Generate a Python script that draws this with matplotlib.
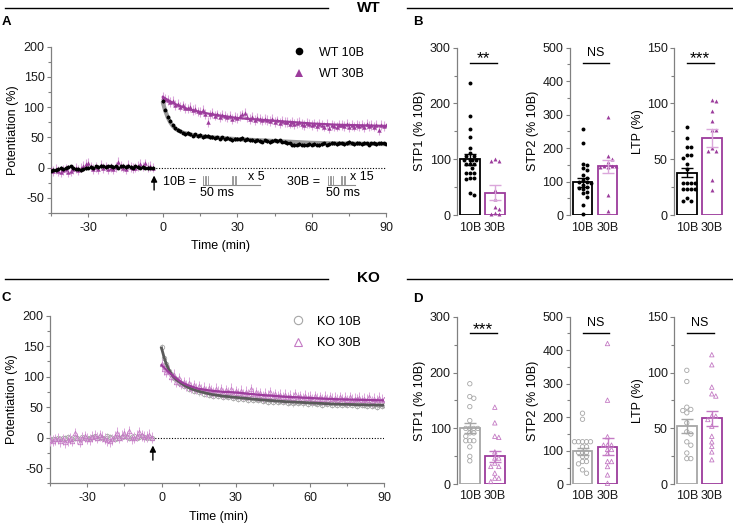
import matplotlib
matplotlib.use('Agg')
import matplotlib.pyplot as plt
import numpy as np
from matplotlib.lines import Line2D

plt.rcParams['font.family'] = ['Liberation Sans', 'DejaVu Sans']

# ---------------- data ----------------
BASE_START = -45
POST_START = 0

wt10_base = [-5, -4, -4, -2, -1, -3, 0, 1, 2, -1,
             -3, -2, -4, -3, -1, 0, 1, 0, 2, 1,
             3, 2, 1, 2, 3, 1, 2, 0, 2, 3,
             1, 2, 1, 0, 2, 1, 0, 1, 0, -1,
             0, 0]
wt30_base = [-3, -6, -2, -5, -8, -4, -2, -7, -5, -3,
             -1, -4, 0, 3, 6, 8, 2, -2, 1, -3,
             4, -1, 2, -2, 0, -3, 1, 10, 3, 0,
             -2, 4, 1, -1, 0, 3, 6, 2, 7, 1,
             3, 0]
wt10_post = [110, 96, 84, 77, 70, 65, 62, 60, 58, 56,
             57, 55, 53, 55, 52, 54, 51, 52, 53, 50,
             51, 49, 50, 48, 50, 47, 49, 48, 46, 47,
             48, 47, 49, 46, 47, 45, 46, 44, 45, 44,
             43, 45, 44, 42, 44, 45, 44, 45, 43, 42,
             41, 40, 38, 37, 38, 39, 38, 37, 38, 39,
             38, 39, 38, 37, 39, 40, 38, 39, 41, 40,
             39, 41, 40, 39, 41, 42, 40, 39, 41, 40,
             39, 41, 40, 38, 40, 41, 39, 40, 41, 40,
             39]
wt30_post = [117, 113, 112, 108, 110, 104, 106, 101, 103, 99,
             98, 100, 95, 97, 93, 92, 95, 89, 76, 88,
             90, 86, 88, 84, 87, 85, 83, 86, 80, 84,
             82, 85, 88, 90, 83, 81, 84, 79, 82, 80,
             78, 81, 79, 77, 80, 76, 78, 74, 77, 75,
             76, 73, 75, 72, 74, 76, 72, 70, 74, 73,
             71, 73, 69, 72, 70, 68, 72, 66, 71, 69,
             68, 71, 70, 69, 72, 67, 70, 68, 71, 69,
             70, 67, 72, 69, 71, 68, 70, 62, 70, 69,
             70]
wt10_sem = 3
wt30_sem = 8
wt10_fit_t = [0, 1, 2, 3, 4, 5, 6, 8, 10, 12, 15, 20, 25, 30, 40, 50, 60, 70, 80, 90]
wt10_fit_y = [108, 94, 83, 75, 69, 65, 62, 58, 56, 54, 52, 50, 48.5, 47, 45, 43, 41, 40, 39.5, 39]
wt30_fit_t = [0, 2, 5, 10, 15, 20, 25, 30, 40, 50, 60, 70, 80, 90]
wt30_fit_y = [117, 112, 105, 97, 92, 88, 85, 82, 79, 76, 73, 71, 70, 69]

ko10_base = [-3, -2, -3, -1, -2, -1, 0, 1, -1, -2,
             0, -1, -2, 1, 0, -1, 0, 1, 2, 0,
             1, -1, 0, 2, 1, 0, -2, -1, 0, 1,
             2, 1, 0, 1, 2, 0, 1, 2, 1, 0,
             1, 0]
ko30_base = [-4, -5, -3, -2, -6, -3, -8, -4, -2, -5,
             7, -1, -7, 0, 2, -2, -3, 1, 3, 0,
             4, 1, -2, -4, -6, -3, 2, 8, 0, 3,
             7, 2, 10, -1, 0, 3, 9, 4, 1, 2,
             5, 0]
ko10_post = [149, 130, 121, 109, 105, 97, 96, 90, 90, 85,
             85, 80, 81, 77, 78, 74, 76, 72, 74, 70,
             72, 69, 71, 68, 70, 66, 69, 66, 68, 65,
             67, 64, 66, 63, 65, 62, 65, 62, 64, 61,
             63, 60, 62, 59, 61, 59, 61, 58, 60, 58,
             60, 57, 59, 56, 59, 57, 58, 56, 58, 55,
             58, 56, 57, 55, 57, 54, 57, 55, 56, 54,
             56, 54, 56, 53, 55, 53, 56, 53, 55, 52,
             55, 53, 54, 52, 55, 52, 54, 51, 54, 52,
             53]
ko30_post = [120, 112, 108, 110, 100, 103, 92, 97, 88, 91,
             86, 90, 82, 86, 80, 84, 79, 82, 76, 81,
             78, 74, 80, 75, 79, 73, 78, 74, 80, 72,
             76, 73, 77, 71, 75, 70, 79, 72, 74, 69,
             73, 68, 72, 69, 74, 67, 71, 68, 70, 66,
             70, 66, 69, 65, 71, 66, 68, 64, 69, 65,
             67, 63, 68, 64, 66, 63, 67, 62, 66, 64,
             65, 62, 66, 63, 65, 61, 66, 62, 64, 63,
             65, 61, 64, 62, 66, 60, 64, 61, 65, 62,
             63]
ko10_sem = 5
ko30_sem = 9
ko10_fit_t = [0, 1, 2, 3, 4, 5, 6, 7, 8, 10, 12, 15, 20, 25, 30, 40, 50, 60, 70, 80, 90]
ko10_fit_y = [147, 132, 120, 111, 104, 99, 95, 92, 89, 84, 80, 76, 71, 68, 66, 62, 59, 57, 55, 54, 53]
ko30_fit_t = [0, 1, 2, 3, 4, 5, 6, 7, 8, 10, 12, 15, 20, 25, 30, 40, 50, 60, 70, 80, 90]
ko30_fit_y = [119, 115, 111, 107, 104, 100, 97, 94, 91, 87, 84, 80, 77, 75, 74, 70, 67, 65, 63, 62, 61]

groups = ['10B', '30B']

wt_stp1_10 = [236, 177, 154, 139, 121, 112, 106, 106, 99, 99, 99, 99, 91, 91, 91, 84, 76, 76, 76, 67, 67, 64, 40, 36]
wt_stp1_30 = [101, 97, 97, 44, 28, 15, 10, 3, 2, 1]
wt_stp1_mean = [100, 40]
wt_stp1_sem = [10, 13]
wt_stp2_10 = [256, 216, 152, 148, 140, 135, 120, 112, 105, 100, 98, 95, 90, 85, 80, 78, 70, 65, 55, 30, 2]
wt_stp2_30 = [294, 177, 167, 157, 147, 147, 147, 142, 142, 60, 12]
wt_stp2_mean = [98, 145]
wt_stp2_sem = [13, 20]
wt_ltp_10 = [79, 69, 61, 61, 54, 54, 51, 46, 41, 29, 29, 29, 29, 23, 23, 23, 23, 15, 13, 13]
wt_ltp_30 = [103, 102, 93, 84, 76, 76, 60, 57, 57, 31, 22]
wt_ltp_mean = [38, 69]
wt_ltp_sem = [4, 8]

ko_stp1_10 = [180, 157, 154, 139, 114, 100, 100, 100, 100, 92, 92, 86, 78, 78, 78, 67, 50, 42]
ko_stp1_30 = [138, 110, 86, 84, 58, 47, 47, 38, 32, 32, 20, 11, 11, 5]
ko_stp1_mean = [100, 50]
ko_stp1_sem = [9, 10]
ko_stp2_10 = [212, 194, 127, 127, 127, 127, 127, 112, 112, 95, 95, 95, 83, 83, 68, 68, 61, 43, 33]
ko_stp2_30 = [420, 251, 142, 117, 117, 117, 104, 104, 92, 68, 68, 53, 28, 3]
ko_stp2_mean = [98, 112]
ko_stp2_sem = [10, 25]
ko_ltp_10 = [102, 92, 69, 67, 66, 64, 55, 47, 45, 38, 35, 28, 23, 23]
ko_ltp_30 = [116, 107, 87, 81, 79, 61, 61, 58, 52, 43, 38, 34, 29, 22]
ko_ltp_mean = [52, 59]
ko_ltp_sem = [6, 7]

# ---------------- style ----------------
PURPLE = '#9c3c9c'
LPURPLE = '#dba6db'
KOPURPLE = '#c47ac4'
GRAY = '#a6a6a6'
AXC = '#808080'
FS = 9

W, H = 733, 525
fig = plt.figure(figsize=(W / 100, H / 100), dpi=100)


def add_ax(l, t, r, b):
    return fig.add_axes([l / W, 1 - b / H, (r - l) / W, (b - t) / H])


def fx(x):
    return x / W


def fy(y):
    return 1 - y / H


def fig_line(x0, y0, x1, y1, **kw):
    fig.add_artist(Line2D([fx(x0), fx(x1)], [fy(y0), fy(y1)], transform=fig.transFigure, **kw))


def fig_text(x, y, s, **kw):
    fig.text(fx(x), fy(y), s, **kw)


def style(ax):
    for s in ['top', 'right']:
        ax.spines[s].set_visible(False)
    for s in ['left', 'bottom']:
        ax.spines[s].set_color(AXC)
        ax.spines[s].set_linewidth(0.9)
    ax.tick_params(which='both', color=AXC, width=0.8, labelsize=FS, labelcolor='#1a1a1a')
    ax.tick_params(which='major', length=3.2)
    ax.tick_params(which='minor', length=2.0)
    ax.tick_params(axis='y', pad=1.5)
    ax.tick_params(axis='x', pad=3)


# ---------------- header lines ----------------
for yline, lab in [(7.5, 'WT'), (278.5, 'KO')]:
    fig_line(5, yline, 328, yline, color='k', lw=1)
    fig_line(407, yline, 733, yline, color='k', lw=1)
    fig_text(357, yline, lab, fontsize=11, fontweight='bold', ha='left', va='center')

for x, y, lab in [(2, 22, 'A'), (413, 22, 'B'), (2, 298, 'C'), (413, 299, 'D')]:
    fig_text(x, y, lab, fontsize=9.5, fontweight='bold', ha='left', va='center')


# ---------------- time course panels ----------------
def time_panel(ax, b10, b30, p10, p30, s10, s30, f10t, f10y, f30t, f30y, ko):
    style(ax)
    ax.set_xlim(-45, 90)
    ax.set_ylim(-75, 200)
    ax.set_xticks([-30, 0, 30, 60, 90])
    ax.set_xticks([-45, -15, 15, 45, 75], minor=True)
    ax.set_yticks([-50, 0, 50, 100, 150, 200])
    ax.set_yticks([-75, -25, 25, 75, 125, 175], minor=True)
    ax.set_xticklabels(['-30', '0', '30', '60', '90'])
    ax.set_yticklabels(['-50', '0', '50', '100', '150', '200'])
    ax.plot([-4, 90], [0, 0], ls=(0, (1, 1.5)), color='k', lw=0.8, zorder=1)

    tb10 = np.arange(len(b10)) + BASE_START
    tb30 = np.arange(len(b30)) + BASE_START
    tp10 = np.arange(len(p10)) + POST_START
    tp30 = np.arange(len(p30)) + POST_START
    t10 = np.concatenate([tb10, tp10])
    y10 = np.concatenate([b10, p10])
    t30 = np.concatenate([tb30, tp30])
    y30 = np.concatenate([b30, p30])

    if not ko:
        ax.errorbar(t30, y30, yerr=s30, fmt='none', ecolor=LPURPLE, elinewidth=0.8, zorder=2)
        ax.plot(f30t, f30y, color=PURPLE, lw=1.6, zorder=3)
        ax.plot(t30, y30, ls='', marker='^', ms=3.2, color=PURPLE, mew=0, zorder=4)
        ax.plot(f10t, f10y, color='#9a9a9a', lw=3.0, zorder=5, solid_capstyle='round')
        ax.errorbar(t10, y10, yerr=s10, fmt='none', ecolor='#333333', elinewidth=0.6, zorder=6)
        ax.plot(t10, y10, ls='', marker='o', ms=2.8, color='k', mew=0, zorder=7)
        h1 = Line2D([], [], ls='', marker='o', ms=5.5, color='k', mew=0)
        h2 = Line2D([], [], ls='', marker='^', ms=5.5, color=PURPLE, mew=0)
        labels = ['WT 10B', 'WT 30B']
    else:
        ax.errorbar(t10, y10, yerr=s10, fmt='none', ecolor='#cfcfcf', elinewidth=0.7, zorder=2)
        ax.plot(t10, y10, ls='', marker='o', ms=3.2, mfc='none', mec=GRAY, mew=0.6, zorder=3)
        ax.errorbar(t30, y30, yerr=s30, fmt='none', ecolor=LPURPLE, elinewidth=0.7, zorder=4)
        ax.plot(t30, y30, ls='', marker='^', ms=3.2, mfc='none', mec=KOPURPLE, mew=0.6, zorder=5)
        ax.plot(f10t, f10y, color='#5a5a5a', lw=2.0, zorder=6)
        ax.plot(f30t, f30y, color=PURPLE, lw=1.6, zorder=7)
        h1 = Line2D([], [], ls='', marker='o', ms=6, mfc='none', mec=GRAY, mew=0.8)
        h2 = Line2D([], [], ls='', marker='^', ms=6, mfc='none', mec=KOPURPLE, mew=0.8)
        labels = ['KO 10B', 'KO 30B']

    ax.annotate('', xy=(-3.5, -13), xytext=(-3.5, -37),
                arrowprops=dict(arrowstyle='-|>', color='k', lw=1.0, mutation_scale=9,
                                shrinkA=0, shrinkB=0))
    ax.legend([h1, h2], labels, loc='upper left', bbox_to_anchor=(0.722, 1.0),
              frameon=False, fontsize=FS, handlelength=1.0, handletextpad=1.05,
              labelspacing=0.75, borderpad=0, borderaxespad=0)
    ax.set_ylabel('Potentiation (%)', fontsize=FS)
    ax.yaxis.set_label_coords(-0.095, 0.5)
    ax.set_xlabel('Time (min)', fontsize=FS)
    ax.xaxis.set_label_coords(0.504, -0.165)


axA = add_ax(51, 46.7, 386.4, 213)
time_panel(axA, wt10_base, wt30_base, wt10_post, wt30_post, wt10_sem, wt30_sem,
           wt10_fit_t, wt10_fit_y, wt30_fit_t, wt30_fit_y, ko=False)
axC = add_ax(50.2, 315.7, 384.2, 483.3)
time_panel(axC, ko10_base, ko30_base, ko10_post, ko30_post, ko10_sem, ko30_sem,
           ko10_fit_t, ko10_fit_y, ko30_fit_t, ko30_fit_y, ko=True)

# stimulation protocol schematic (panel A)
SC = '#8c8c8c'
fig_text(163, 182, '10B =', fontsize=FS, ha='left', va='center')
fig_line(203, 184.5, 260, 184.5, color=SC, lw=0.8)
for x0 in (203, 231.5):
    for k in range(4):
        fig_line(x0 + 1.5 * k, 175.5, x0 + 1.5 * k, 184.5, color=SC, lw=0.6)
fig_text(248, 176.5, 'x 5', fontsize=FS, ha='left', va='center')
fig_text(200, 193.5, '50 ms', fontsize=FS, ha='left', va='center')

fig_text(287, 182, '30B =', fontsize=FS, ha='left', va='center')
fig_line(328, 184.5, 355, 184.5, color=SC, lw=0.8)
for x0 in (328, 340.5):
    for k in range(4):
        fig_line(x0 + 1.5 * k, 175.5, x0 + 1.5 * k, 184.5, color=SC, lw=0.6)
fig_text(350, 177, 'x 15', fontsize=FS, ha='left', va='center')
fig_text(326.5, 193.5, '50 ms', fontsize=FS, ha='left', va='center')


# ---------------- bar panels ----------------
def swarm_offsets(ax, vals, spacing_px=4.0, max_px=8.5):
    vals = np.asarray(vals, dtype=float)
    ypx = ax.transData.transform(np.column_stack([np.zeros(len(vals)), vals]))[:, 1]
    pxx = ax.transData.transform([[1, 0]])[0, 0] - ax.transData.transform([[0, 0]])[0, 0]
    order = np.argsort(-vals, kind='stable')
    cands = [0.0]
    k = 1
    while k * spacing_px / 2 <= max_px:
        cands += [k * spacing_px / 2, -k * spacing_px / 2]
        k += 1
    placed = []
    offs = np.zeros(len(vals))
    for i in order:
        best, best_d = None, -1
        for c in cands:
            d = min([np.hypot(c - px, ypx[i] - py) for px, py in placed] + [1e9])
            if d >= spacing_px * 0.98:
                best = c
                break
            if d > best_d:
                best_d, best = d, c
        placed.append((best, ypx[i]))
        offs[i] = best / pxx
    return offs


def bar_panel(ax, v10, v30, means, sems, ymax, majors, minors, ylabel, sig, ko, lab_x, sig_y, txt_y):
    style(ax)
    ax.spines['bottom'].set_visible(False)
    ax.set_xlim(-0.5, 1.5)
    ax.set_ylim(0, ymax)
    ax.set_yticks(majors)
    ax.set_yticks(minors, minor=True)
    ax.set_xticks([0, 1])
    ax.set_xticklabels(groups)
    ax.tick_params(axis='x', length=0, pad=5 if not ko else 4)
    if not ko:
        c10, c30 = 'k', PURPLE
        e10, e30 = 'k', LPURPLE
    else:
        c10, c30 = GRAY, PURPLE
        e10, e30 = GRAY, KOPURPLE
    ax.bar([0, 1], means, width=0.78, color='white', edgecolor=[c10, c30], linewidth=1.3, zorder=1)
    o10 = swarm_offsets(ax, v10)
    o30 = swarm_offsets(ax, v30)
    if not ko:
        ax.scatter(0 + o10, v10, s=8, color='k', linewidths=0, zorder=3, clip_on=False)
        ax.scatter(1 + o30, v30, s=8, marker='^', color=PURPLE, linewidths=0, zorder=3, clip_on=False)
    else:
        ax.scatter(0 + o10, v10, s=10, facecolors='none', edgecolors=GRAY, linewidths=0.6, zorder=3, clip_on=False)
        ax.scatter(1 + o30, v30, s=10, marker='^', facecolors='none', edgecolors=KOPURPLE, linewidths=0.6,
                   zorder=3, clip_on=False)
    ax.errorbar([0], [means[0]], yerr=[sems[0]], fmt='none', ecolor=e10, elinewidth=1.0, capsize=4, capthick=1.0, zorder=4)
    ax.errorbar([1], [means[1]], yerr=[sems[1]], fmt='none', ecolor=e30, elinewidth=1.0, capsize=4, capthick=1.0, zorder=4)
    tr = ax.get_xaxis_transform()
    ax.plot([0.0, 1.07], [sig_y, sig_y], transform=tr, color='k', lw=1.0, clip_on=False)
    if sig == 'NS':
        ax.text(0.53, txt_y, sig, transform=tr, ha='center', va='center', fontsize=FS)
    else:
        ax.text(0.53, txt_y - 0.035, sig, transform=tr, ha='center', va='center', fontsize=12.5)
    ax.set_ylabel(ylabel, fontsize=FS)
    ax.yaxis.set_label_coords(lab_x, 0.5)


# panel B
axB1 = add_ax(457.3, 47.7, 507.3, 215)
bar_panel(axB1, wt_stp1_10, wt_stp1_30, wt_stp1_mean, wt_stp1_sem, 300, [0, 100, 200, 300],
          [50, 150, 250], 'STP1 (% 10B)', '**', False, -0.63, 0.91, 0.97)
axB2 = add_ax(570, 47.7, 620, 215)
bar_panel(axB2, wt_stp2_10, wt_stp2_30, wt_stp2_mean, wt_stp2_sem, 500, [0, 100, 200, 300, 400, 500],
          [50, 150, 250, 350, 450], 'STP2 (% 10B)', 'NS', False, -0.62, 0.91, 0.97)
axB3 = add_ax(674.3, 47.7, 724.3, 215)
bar_panel(axB3, wt_ltp_10, wt_ltp_30, wt_ltp_mean, wt_ltp_sem, 150, [0, 50, 100, 150],
          [25, 75, 125], 'LTP (%)', '***', False, -0.6, 0.91, 0.97)

# panel D
axD1 = add_ax(457.3, 316.7, 507.3, 484.3)
bar_panel(axD1, ko_stp1_10, ko_stp1_30, ko_stp1_mean, ko_stp1_sem, 300, [0, 100, 200, 300],
          [50, 150, 250], 'STP1 (% 10B)', '***', True, -0.63, 0.90, 0.96)
axD2 = add_ax(570, 316.7, 620, 484.3)
bar_panel(axD2, ko_stp2_10, ko_stp2_30, ko_stp2_mean, ko_stp2_sem, 500, [0, 100, 200, 300, 400, 500],
          [50, 150, 250, 350, 450], 'STP2 (% 10B)', 'NS', True, -0.62, 0.90, 0.96)
axD3 = add_ax(674.3, 316.7, 724.3, 484.3)
bar_panel(axD3, ko_ltp_10, ko_ltp_30, ko_ltp_mean, ko_ltp_sem, 150, [0, 50, 100, 150],
          [25, 75, 125], 'LTP (%)', 'NS', True, -0.6, 0.90, 0.96)

fig.savefig('out.png', dpi=100)
